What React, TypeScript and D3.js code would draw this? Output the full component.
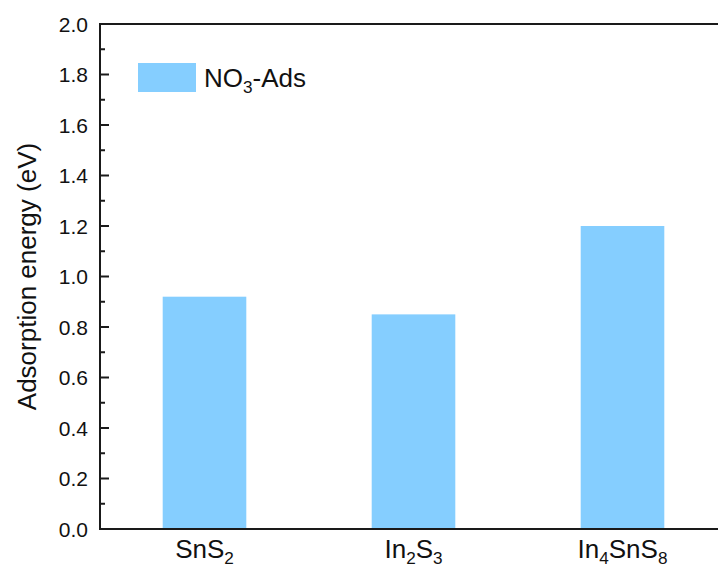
import React from "react";
import * as d3 from "d3";

// Adsorption energies of NO3- on each sulfide surface
const categories = ["SnS2", "In2S3", "In4SnS8"];
const adsorptionEnergy = [0.92, 0.85, 1.2];
const yTicks = [0, 0.2, 0.4, 0.6, 0.8, 1.0, 1.2, 1.4, 1.6, 1.8, 2.0];
const seriesName = "NO3-Ads";

// Label parts: [text, isSubscript]
const categoryLabels: [string, boolean][][] = [
  [["SnS", false], ["2", true]],
  [["In", false], ["2", true], ["S", false], ["3", true]],
  [["In", false], ["4", true], ["SnS", false], ["8", true]],
];
const legendLabel: [string, boolean][] = [["NO", false], ["3", true], ["-Ads", false]];

const W = 718;
const H = 570;
const left = 100;
const top = 24;
const bottom = 529;
const right = 727;
const font = "Arial, 'Liberation Sans', sans-serif";
const barColor = "#85CEFF";
const axisColor = "#1a1a1a";

function Formula({ parts, size, x, y, anchor }: { parts: [string, boolean][]; size: number; x: number; y: number; anchor: string }) {
  const sub = size * 0.66;
  const shift = size * 0.22;
  return (
    <text x={x} y={y} textAnchor={anchor} fontFamily={font} fontSize={size} fill="#111">
      {parts.map(([t, s], i) => {
        const prevSub = i > 0 && parts[i - 1][1];
        const dy = s ? shift : prevSub ? -shift : 0;
        return (
          <tspan key={i} dy={dy} fontSize={s ? sub : size}>
            {t}
          </tspan>
        );
      })}
    </text>
  );
}

export default function App() {
  const x = d3.scaleBand<string>().domain(categories).range([left, right]).paddingInner(0.6).paddingOuter(0.3);
  const y = d3.scaleLinear().domain([0, 2]).range([bottom, top]);
  const minorTicks = d3.range(1, 20, 2).map((v) => v / 10);

  return (
    <svg width={W} height={H} style={{ position: "absolute", left: 0, top: 0, background: "#fff" }}>
      {categories.map((c, i) => (
        <rect
          key={c}
          x={x(c)!}
          y={y(adsorptionEnergy[i])}
          width={x.bandwidth()}
          height={y(0) - y(adsorptionEnergy[i])}
          fill={barColor}
        />
      ))}

      {/* frame */}
      <rect x={left} y={top} width={right - left} height={bottom - top} fill="none" stroke={axisColor} strokeWidth={2} />

      {/* y ticks, pointing inward */}
      {yTicks.map((t) => (
        <g key={t}>
          <line x1={left} x2={left + 9} y1={y(t)} y2={y(t)} stroke={axisColor} strokeWidth={2} />
          <text x={88} y={y(t)} dy="0.36em" textAnchor="end" fontFamily={font} fontSize={21} fill="#111">
            {d3.format(".1f")(t)}
          </text>
        </g>
      ))}
      {minorTicks.map((t) => (
        <line key={t} x1={left} x2={left + 5} y1={y(t)} y2={y(t)} stroke={axisColor} strokeWidth={2} />
      ))}

      {/* category labels */}
      {categories.map((c, i) => (
        <Formula key={c} parts={categoryLabels[i]} size={26} x={x(c)! + x.bandwidth() / 2} y={558} anchor="middle" />
      ))}

      {/* y axis title */}
      <text
        transform={`translate(36, ${(top + bottom) / 2}) rotate(-90)`}
        textAnchor="middle"
        fontFamily={font}
        fontSize={26}
        fill="#111"
      >
        Adsorption energy (eV)
      </text>

      {/* legend */}
      <rect x={138} y={63} width={58} height={29} fill={barColor} />
      <Formula parts={legendLabel} size={26} x={204} y={87} anchor="start" />
      <title>{seriesName}</title>
    </svg>
  );
}
